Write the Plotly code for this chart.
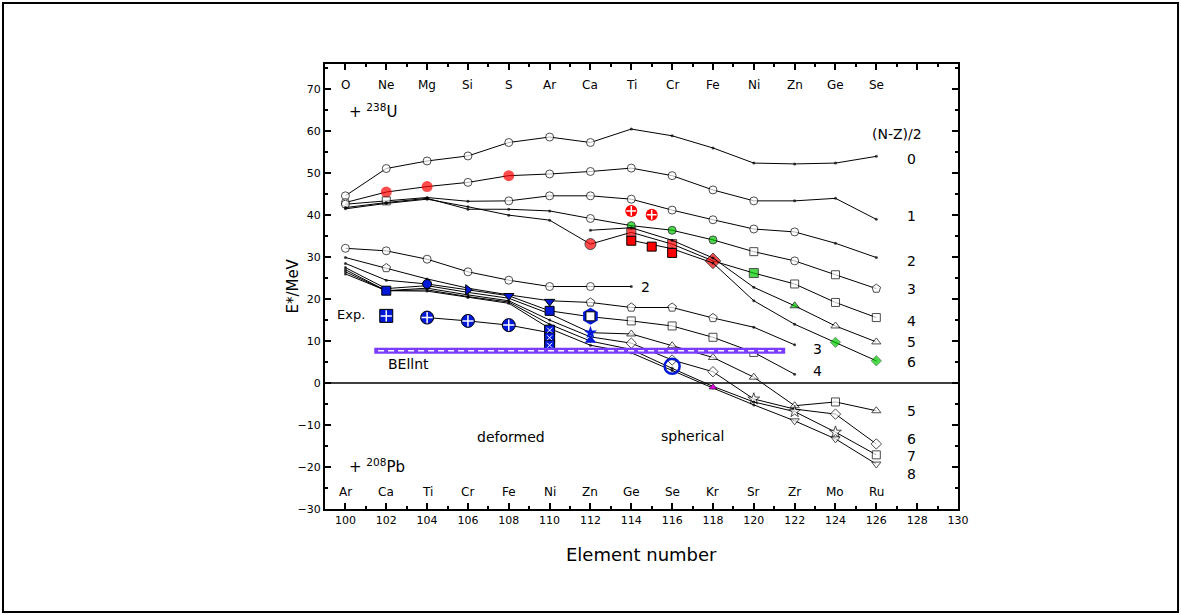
import plotly.graph_objects as go

# ---------------- data ----------------
Z = [100, 102, 104, 106, 108, 110, 112, 114, 116, 118, 120, 122, 124, 126]
top_elements = ["O", "Ne", "Mg", "Si", "S", "Ar", "Ca", "Ti", "Cr", "Fe", "Ni", "Zn", "Ge", "Se"]
bottom_elements = ["Ar", "Ca", "Ti", "Cr", "Fe", "Ni", "Zn", "Ge", "Se", "Kr", "Sr", "Zr", "Mo", "Ru"]
x_ticks = [100, 102, 104, 106, 108, 110, 112, 114, 116, 118, 120, 122, 124, 126, 128, 130]
y_ticks = [-30, -20, -10, 0, 10, 20, 30, 40, 50, 60, 70]

# projectile + 238U, labelled by (N-Z)/2
u0 = [44.6, 51.1, 52.9, 54.1, 57.3, 58.6, 57.3, 60.5, 58.9, 56.0, 52.4, 52.2, 52.4, 54.0]
u1 = [43.0, 45.5, 46.8, 47.8, 49.4, 49.8, 50.4, 51.2, 49.4, 46.0, 43.4, 43.4, 44.0, 39.0]
u2 = [42.6, 43.4, 44.2, 43.3, 43.4, 44.6, 44.6, 43.8, 41.2, 38.9, 36.7, 36.0, 33.3, 29.9]
u3 = [41.8, 43.0, 44.0, 41.4, 41.4, 41.0, 39.2, 37.5, 36.4, 34.1, 31.3, 29.1, 25.8, 22.5]
u4 = [41.5, 42.8, 43.8, 42.0, 40.0, 38.8, 33.1, 35.9, 33.1, 29.1, 26.2, 23.6, 19.2, 15.6]
u5_z = [112, 114, 116, 118, 120, 122, 124, 126]
u5 = [36.4, 37.0, 34.0, 29.8, 22.8, 18.4, 13.6, 9.8]
u6_z = [114, 116, 118, 120, 122, 124, 126]
u6 = [34.0, 32.0, 28.6, 19.6, 14.0, 9.7, 5.3]

# projectile + 208Pb
l2_z = [100, 102, 104, 106, 108, 110, 112, 114]
l2 = [32.1, 31.5, 29.5, 26.5, 24.5, 23.0, 23.0, 23.0]
l3_z = [100, 102, 104, 106, 108, 110, 112, 114, 116, 118, 120, 122]
l3 = [29.9, 27.4, 24.8, 22.6, 21.0, 19.6, 19.2, 18.0, 18.0, 15.5, 13.3, 9.1]
l4_z = [100, 102, 104, 106, 108, 110, 112, 114, 116, 118, 120, 122]
l4 = [28.5, 24.5, 23.6, 22.2, 20.8, 17.2, 15.8, 14.8, 13.6, 10.9, 7.3, 2.1]
l5 = [27.5, 22.5, 23.2, 21.6, 20.2, 16.5, 12.0, 11.7, 8.9, 6.1, 1.4, -5.4, -4.5, -6.6]
l6 = [27.0, 22.0, 22.6, 21.0, 19.6, 15.0, 11.0, 9.5, 5.5, 2.7, -3.8, -6.2, -7.4, -14.5]
l7 = [26.5, 22.0, 22.2, 20.6, 19.3, 14.0, 10.0, 8.0, 3.5, -0.8, -4.5, -6.8, -11.7, -17.1]
l8 = [26.0, 22.0, 21.9, 20.4, 19.0, 13.0, 9.0, 7.2, 3.0, -1.2, -5.2, -9.0, -13.3, -19.3]

# experimental points
red_exp_z = [114, 115]
red_exp = [41.0, 40.1]
red_sq_z = [114, 115, 116]
red_sq = [33.9, 32.5, 31.0]
blue_on_z = [102, 104, 106, 108, 110, 110]
blue_on = [22.0, 23.6, 22.2, 20.8, 19.4, 17.2]
exp_z = [102, 104, 106, 108]
exp_e = [16.0, 15.6, 14.8, 13.8]
exp_line_z = [104, 106, 108, 110]
exp_line_e = [15.6, 14.8, 13.8, 12.0]
ni_box_z = [110, 110, 110]
ni_box_e = [12.6, 10.8, 9.0]
zn_ring_z = [112]
zn_ring_e = [15.9]
zn_tri_z = [112, 112]
zn_tri_e = [10.2, 12.0]
se_ring_z = [116]
se_ring_e = [4.0]
kr_z = [118]
kr_e = [-1.0]
bint_range = [101.45, 121.5]
bint_level = [7.14, 8.26]

# per-point marker styles
u_styles = {
    "u0": ["o", "o", "o", "o", "o", "o", "o", ".", ".", ".", ".", ".", ".", "."],
    "u1": ["o", "R", "R", "o", "R", "o", "o", "o", "o", "o", "o", ".", ".", "."],
    "u2": ["o", "s", ".", ".", "o", "o", "o", "o", "o", "o", "o", "o", ".", "."],
    "u3": [".", ".", ".", ".", ".", ".", "o", "G", "G", "G", "s", "o", "s", "p"],
    "u4": [".", ".", ".", ".", ".", ".", "Rx", "Rs", "Rs", "Rd", "Gs", "s", "s", "s"],
    "u5": [".", ".", ".", ".", ".", "G^", "^", "^"],
    "u6": [".", ".", ".", ".", ".", "Gd", "Gd"],
}
l_styles = {
    "l2": ["o", "o", "o", "o", "o", "o", "o", "."],
    "l3": [".", "p", ".", ".", ".", ".", "p", "p", "p", "p", ".", "."],
    "l4": [".", ".", ".", ".", ".", ".", "s", "s", "s", "s", "s", "."],
    "l5": [".", ".", ".", ".", ".", ".", ".", "^", "^", "^", "^", "^", "s", "^"],
    "l6": [".", ".", ".", ".", ".", ".", ".", "d", "d", "d", "x", ".", "d", "d"],
    "l7": [".", ".", ".", ".", ".", ".", ".", ".", ".", ".", ".", "x", "x", "s"],
    "l8": [".", ".", ".", ".", ".", ".", ".", ".", ".", ".", ".", "v", "v", "v"],
}

RED = "#ff0000"
GREEN = "#00c800"
BLUE = "#0018d8"
PURPLE = "#7a3cff"

STY = {
    "o": ("circle", 8, "white", "black", 1),
    ".": ("circle", 3, "black", "black", 0),
    "s": ("square", 8, "white", "black", 1),
    "p": ("pentagon", 9, "white", "black", 1),
    "^": ("triangle-up", 8, "white", "black", 1),
    "v": ("triangle-down", 8, "white", "black", 1),
    "d": ("diamond", 8, "white", "black", 1),
    "x": ("star", 9, "white", "black", 1),
    "R": ("circle", 11, RED, RED, 0),
    "Rx": ("circle", 11, RED, "black", 1),
    "Rs": ("square", 9, RED, "black", 1),
    "Rd": ("diamond", 12, RED, "black", 1),
    "G": ("circle", 8, GREEN, "black", 1),
    "Gs": ("square", 9, GREEN, "black", 1),
    "G^": ("triangle-up", 8, GREEN, "black", 1),
    "Gd": ("diamond", 8, GREEN, "black", 0.5),
}


def series(x, y, codes):
    return go.Scatter(
        x=x, y=y, mode="lines+markers",
        line=dict(color="black", width=1),
        marker=dict(
            symbol=[STY[c][0] for c in codes],
            size=[STY[c][1] for c in codes],
            color=[STY[c][2] for c in codes],
            line=dict(color=[STY[c][3] for c in codes], width=[STY[c][4] for c in codes]),
        ),
        showlegend=False, hoverinfo="skip",
    )


fig = go.Figure()

fig.add_trace(series(Z, u0, u_styles["u0"]))
fig.add_trace(series(Z, u1, u_styles["u1"]))
fig.add_trace(series(Z, u2, u_styles["u2"]))
fig.add_trace(series(Z, u3, u_styles["u3"]))
fig.add_trace(series(Z, u4, u_styles["u4"]))
fig.add_trace(series(u5_z, u5, u_styles["u5"]))
fig.add_trace(series(u6_z, u6, u_styles["u6"]))

fig.add_trace(series(l2_z, l2, l_styles["l2"]))
fig.add_trace(series(l3_z, l3, l_styles["l3"]))
fig.add_trace(series(l4_z, l4, l_styles["l4"]))
fig.add_trace(series(Z, l5, l_styles["l5"]))
fig.add_trace(series(Z, l6, l_styles["l6"]))
fig.add_trace(series(Z, l7, l_styles["l7"]))
fig.add_trace(series(Z, l8, l_styles["l8"]))


def pts(x, y, symbol, size, color, lcolor="black", lwidth=1, mode="markers"):
    return go.Scatter(x=x, y=y, mode=mode,
                      marker=dict(symbol=symbol, size=size, color=color,
                                  line=dict(color=lcolor, width=lwidth)),
                      line=dict(color="black", width=1),
                      showlegend=False, hoverinfo="skip")


# red experimental
fig.add_trace(pts(red_exp_z, red_exp, "circle", 12, RED, RED, 0))
fig.add_trace(pts(red_exp_z, red_exp, "cross-thin", 7, "white", "white", 1.5))
fig.add_trace(pts(red_sq_z, red_sq, "square", 9, RED, "black", 1))

# blue points on the Pb lines
fig.add_trace(pts(blue_on_z, blue_on,
                  ["square", "circle", "triangle-right", "triangle-down", "triangle-down", "square"],
                  9, BLUE, "black", 1))

# blue experimental
fig.add_trace(go.Scatter(x=exp_line_z, y=exp_line_e, mode="lines",
                         line=dict(color="black", width=1), showlegend=False, hoverinfo="skip"))
fig.add_trace(pts(exp_z, exp_e, ["square", "circle", "circle", "circle"], 13, BLUE, "black", 1))
fig.add_trace(pts(exp_z, exp_e, "cross-thin", 8, "white", "white", 1.5))
fig.add_trace(pts(ni_box_z, ni_box_e, "square", 10, BLUE, "black", 1))
fig.add_trace(pts(ni_box_z, ni_box_e, "x-thin", 5, "white", "white", 1))
fig.add_trace(pts(zn_ring_z, zn_ring_e, "hexagon", 17, BLUE, BLUE, 0))
fig.add_trace(pts(zn_ring_z, zn_ring_e, "square", 9, "white", "black", 1))
fig.add_trace(pts(zn_tri_z, zn_tri_e, ["triangle-up", "star"], 10, BLUE, BLUE, 0))
fig.add_trace(pts(se_ring_z, se_ring_e, "circle-open", 15, BLUE, BLUE, 2.5))
fig.add_trace(pts(kr_z, kr_e, "triangle-up", 7, "#e000e0", "black", 0.5))

# BEllnt band
fig.add_shape(type="rect", x0=bint_range[0], x1=bint_range[1], y0=bint_level[0], y1=bint_level[1],
              xref="x", yref="y", line=dict(color=PURPLE, width=1.5), fillcolor=PURPLE, layer="above")
fig.add_shape(type="line", x0=bint_range[0] + 0.15, x1=bint_range[1] - 0.15,
              y0=sum(bint_level) / 2, y1=sum(bint_level) / 2,
              xref="x", yref="y", line=dict(color="white", width=1.5, dash="6px,4px"), layer="above")

# zero line
fig.add_shape(type="line", x0=99, x1=130, y0=0, y1=0, xref="x", yref="y",
              line=dict(color="black", width=1.5), layer="below")

# outer frame
fig.add_shape(type="rect", xref="paper", yref="paper",
              x0=-0.5087, x1=1.3476, y0=-0.2315, y1=1.137,
              line=dict(color="black", width=2), fillcolor="rgba(0,0,0,0)")

FONT = "DejaVu Sans"
anns = []
for zz, el in zip(Z, top_elements):
    anns.append(dict(x=zz, y=71, text=el, showarrow=False, font=dict(size=12, family=FONT, color="black")))
for zz, el in zip(Z, bottom_elements):
    anns.append(dict(x=zz, y=-26, text=el, showarrow=False, font=dict(size=12, family=FONT, color="black")))

right_labels = [("0", 53.3), ("1", 39.8), ("2", 29.1), ("3", 22.4), ("4", 14.8), ("5", 9.7), ("6", 4.9),
                ("5", -6.6), ("6", -13.4), ("7", -17.4), ("8", -21.7)]
for t, yy in right_labels:
    anns.append(dict(x=127.7, y=yy, text=t, showarrow=False, font=dict(size=14, family=FONT, color="black")))

for t, xx, yy in [("2", 114.7, 23.0), ("3", 123.1, 8.1), ("4", 123.1, 2.9)]:
    anns.append(dict(x=xx, y=yy, text=t, showarrow=False, font=dict(size=14, family=FONT, color="black")))

anns += [
    dict(x=127.0, y=59.3, text="(N-Z)/2", showarrow=False, font=dict(size=14, family=FONT, color="black")),
    dict(x=100.1, y=64.8, text="+ <sup>238</sup>U", showarrow=False, xanchor="left",
         font=dict(size=15, family=FONT, color="black")),
    dict(x=100.1, y=-19.7, text="+ <sup>208</sup>Pb", showarrow=False, xanchor="left",
         font=dict(size=15, family=FONT, color="black")),
    dict(x=108.1, y=-12.9, text="deformed", showarrow=False, font=dict(size=14, family=FONT, color="black")),
    dict(x=117.0, y=-12.5, text="spherical", showarrow=False, font=dict(size=14, family=FONT, color="black")),
    dict(x=100.26, y=16.4, text="Exp.", showarrow=False, font=dict(size=13, family=FONT, color="black")),
    dict(x=103.1, y=4.5, text="BEllnt", showarrow=False, font=dict(size=14, family=FONT, color="black")),
    dict(x=0.5, y=-0.103, xref="paper", yref="paper", text="Element number", showarrow=False,
         yanchor="middle", font=dict(size=18, family=FONT, color="black")),
    dict(x=-0.052, y=0.5, xref="paper", yref="paper", text="E*/MeV", showarrow=False, textangle=-90,
         xanchor="center", yanchor="middle", font=dict(size=15, family=FONT, color="black")),
]

fig.update_layout(
    width=1181, height=615,
    margin=dict(l=325, r=223, t=64, b=106),
    paper_bgcolor="white", plot_bgcolor="white",
    showlegend=False,
    annotations=anns,
    xaxis=dict(range=[99, 130], tickvals=x_ticks, ticks="inside", ticklen=6, tickwidth=1.5,
               tickcolor="black", showline=True, linewidth=2, linecolor="black", mirror="ticks",
               showgrid=False, zeroline=False,
               tickfont=dict(size=11, family=FONT, color="black"),
               minor=dict(dtick=1, ticks="inside", ticklen=3, tickcolor="black", tickwidth=1.5)),
    yaxis=dict(range=[-30, 76], tickvals=y_ticks, ticks="inside", ticklen=6, tickwidth=1.5,
               tickcolor="black", showline=True, linewidth=2, linecolor="black", mirror="ticks",
               showgrid=False, zeroline=False,
               tickfont=dict(size=11, family=FONT, color="black"),
               minor=dict(dtick=5, ticks="inside", ticklen=3, tickcolor="black", tickwidth=1.5)),
)

fig.write_html("out.html", config={"displayModeBar": False},
               post_script="document.body.style.margin='0px';")
